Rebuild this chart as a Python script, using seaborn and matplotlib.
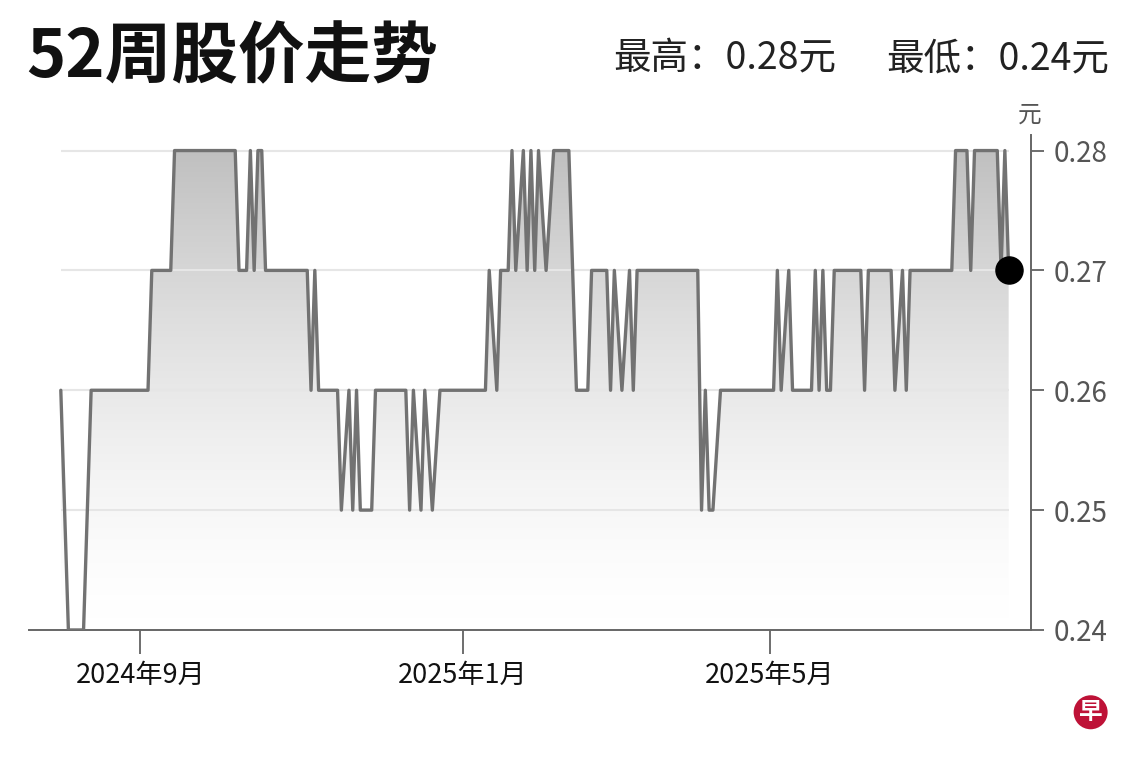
import numpy as np
import pandas as pd
import matplotlib
matplotlib.use("Agg")
import matplotlib.pyplot as plt
import seaborn as sns
from matplotlib.colors import LinearSegmentedColormap
from matplotlib.patches import PathPatch, Ellipse

# ─────────────────────────────────────────────
# 1. DATA  (daily close, read off the chart as runs of equal price)
# ─────────────────────────────────────────────
price_levels = [
    0.26, 0.25, 0.24, 0.25, 0.26, 0.27, 0.28, 0.27, 0.28, 0.27, 0.28, 0.27,
    0.26, 0.27, 0.26, 0.25, 0.255, 0.26, 0.25, 0.26, 0.25, 0.26,
    0.25, 0.26, 0.255, 0.25, 0.26, 0.255, 0.25, 0.255, 0.26,
    0.27, 0.265, 0.26, 0.27, 0.28, 0.27, 0.275, 0.28, 0.27, 0.28, 0.27, 0.28,
    0.275, 0.27, 0.275, 0.28, 0.27, 0.26, 0.27,
    0.26, 0.27, 0.265, 0.26, 0.265, 0.27, 0.26, 0.27,
    0.25, 0.26, 0.25, 0.255, 0.26, 0.27, 0.26, 0.265, 0.27, 0.26,
    0.27, 0.26, 0.27, 0.26, 0.27, 0.26, 0.27, 0.26, 0.265, 0.27, 0.26, 0.27,
    0.28, 0.27, 0.28, 0.27, 0.28, 0.27,
]
price_runs = [
    1, 1, 5, 1, 16, 6, 17, 3, 1, 1, 2, 12,
    1, 1, 6, 1, 1, 1, 1, 1, 4, 9,
    1, 1, 1, 1, 1, 1, 1, 1, 13,
    1, 1, 1, 3, 1, 1, 1, 1, 1, 1, 1, 1,
    1, 1, 1, 5, 1, 4, 5,
    1, 1, 1, 1, 1, 1, 1, 17,
    1, 1, 2, 1, 15, 1, 1, 1, 1, 6,
    1, 1, 1, 2, 8, 1, 7, 1, 1, 1, 1, 12,
    4, 1, 7, 1, 1, 1,
]

# SGX trading calendar for the 52 weeks
start_date = "2024-08-01"
end_date = "2025-07-31"
holidays = [
    "2024-08-09", "2024-10-31", "2024-12-25", "2025-01-01", "2025-01-29",
    "2025-01-30", "2025-03-31", "2025-04-18", "2025-05-01", "2025-05-12",
]
tick_months = ["2024-09", "2025-01", "2025-05"]

high_price = 0.28
low_price = 0.24
y_ticks = [0.24, 0.25, 0.26, 0.27, 0.28]

# ─────────────────────────────────────────────
# 2. BUILD FRAME
# ─────────────────────────────────────────────
dates = pd.bdate_range(start_date, end_date)
dates = dates[~dates.isin(pd.to_datetime(holidays))]
prices = np.repeat(price_levels, price_runs)
df = pd.DataFrame({"date": dates, "price": prices})
df["idx"] = np.arange(len(df))

tick_pos = []
tick_lab = []
for m in tick_months:
    first = df[df["date"].dt.strftime("%Y-%m") == m].iloc[0]
    tick_pos.append(first["idx"])
    tick_lab.append(f"{first['date'].year}年{first['date'].month}月")

# ─────────────────────────────────────────────
# 3. PLOT
# ─────────────────────────────────────────────
sns.set_theme(style="white")
plt.rcParams["font.family"] = ["Noto Sans CJK SC", "DejaVu Sans"]

fig = plt.figure(figsize=(11.4, 7.6), dpi=100)
ax = fig.add_axes([0.0254, 0.1711, 0.879, 0.6513])

x0, x1 = df["idx"].iloc[0], df["idx"].iloc[-1]

# gradient fill under the line
poly = ax.fill_between(df["idx"], df["price"], low_price, color="none", lw=0)
clip = PathPatch(poly.get_paths()[0], transform=ax.transData,
                 facecolor="none", edgecolor="none")
ax.add_patch(clip)
cmap = LinearSegmentedColormap.from_list("fade", ["#ffffff", "#c0c0c0"])
grad = np.linspace(1, 0, 300).reshape(-1, 1) ** 1.5
im = ax.imshow(grad, extent=[x0, x1, low_price, high_price], aspect="auto",
               cmap=cmap, vmin=0, vmax=1, origin="upper", zorder=1)
im.set_clip_path(clip)

# gridlines only across the data range
ax.hlines(y_ticks[1:], x0, x1, color="#e6e6e6", lw=1.5, zorder=2)

sns.lineplot(data=df, x="idx", y="price", ax=ax, color="#727272",
             linewidth=2.4, zorder=3)
ax.plot(df["idx"].iloc[-1], df["price"].iloc[-1], "o", color="black",
        markersize=19.5, zorder=4, clip_on=False)

ax.set_xlim(-8.4, 255.9)
ax.set_ylim(low_price, 0.2813)

ax.yaxis.tick_right()
ax.set_yticks(y_ticks)
ax.set_yticklabels([f"{v:.2f}" for v in y_ticks])
ax.set_xticks(tick_pos)
ax.set_xticklabels(tick_lab)
ax.set_xlabel("")
ax.set_ylabel("")

ax.tick_params(axis="y", which="both", direction="out", length=9, width=1.2,
               color="#555555", labelcolor="#555555", labelsize=20, pad=7,
               right=True, left=False)
ax.tick_params(axis="x", direction="out", length=17, width=1.2,
               color="#555555", labelcolor="#111111", labelsize=19.5, pad=6,
               bottom=True)

for s in ["top", "left"]:
    ax.spines[s].set_visible(False)
for s in ["bottom", "right"]:
    ax.spines[s].set_color("#666666")
    ax.spines[s].set_linewidth(1.4)
ax.grid(False)

# ─────────────────────────────────────────────
# 4. TEXTS
# ─────────────────────────────────────────────
fig.text(0.023, 0.924, "52周股价走势", fontsize=48, fontweight="bold",
         color="#111111", va="center", ha="left")
fig.text(0.5377, 0.923, f"最高：{high_price:.2f}元", fontsize=27,
         color="#222222", va="center", ha="left")
fig.text(0.9725, 0.923, f"最低：{low_price:.2f}元", fontsize=27,
         color="#222222", va="center", ha="right")
fig.text(0.9035, 0.849, "元", fontsize=17, color="#555555",
         va="center", ha="center")

# logo
fig.add_artist(Ellipse((0.9567, 0.0628), 34 / 1140, 34 / 760,
                       transform=fig.transFigure,
                       facecolor="#be1237", edgecolor="none"))
fig.text(0.9567, 0.0628, "早", fontsize=17, fontweight="bold", color="white",
         va="center", ha="center")

fig.savefig("out.png", dpi=100)
